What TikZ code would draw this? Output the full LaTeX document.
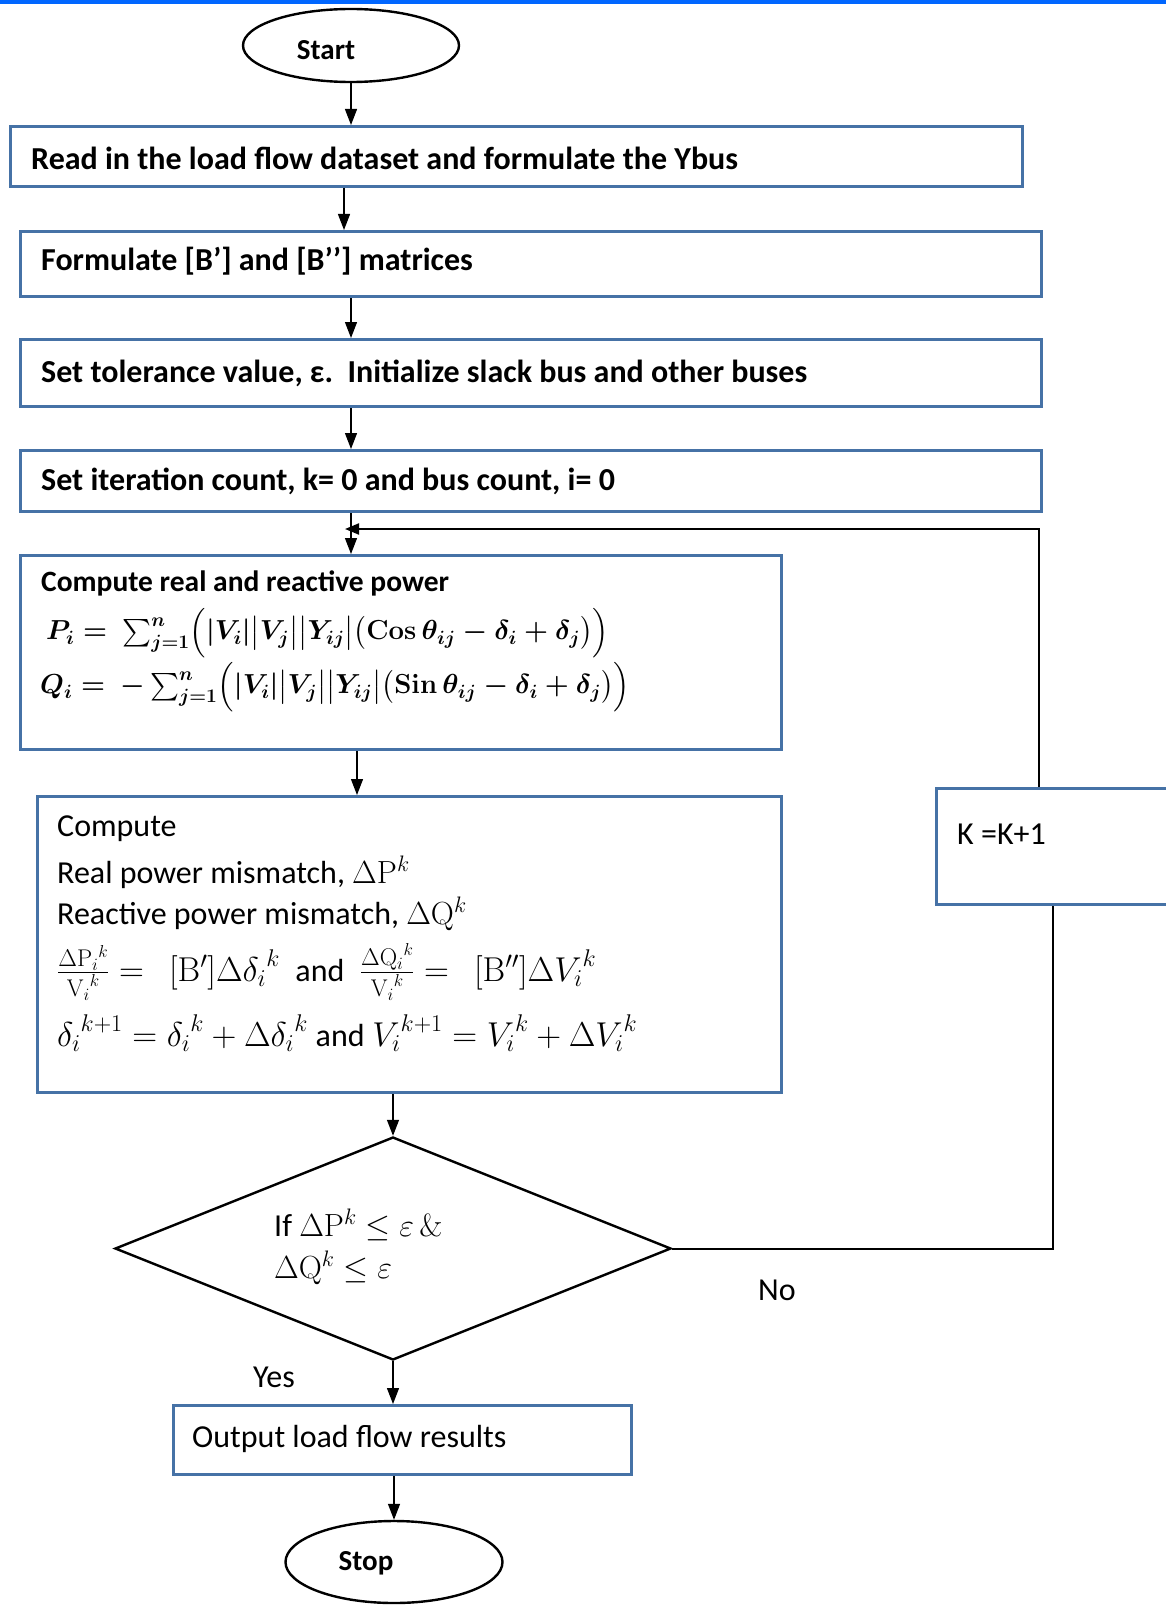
\documentclass[tikz,border=0pt]{standalone}
\usepackage{fix-cm}
\usepackage{amsmath,amssymb}
\usepackage[no-math]{fontspec}
\setmainfont{Carlito}
\usetikzlibrary{shapes.geometric,arrows.meta}
\definecolor{boxblue}{RGB}{70,114,166}
\definecolor{topblue}{RGB}{0,102,255}
\newcommand{\andtxt}{{\fontsize{32}{38}\selectfont and}}
\tikzset{
  box/.style={draw=boxblue, line width=3pt, inner sep=0pt, anchor=north west},
  term/.style={draw=black, line width=2.4pt, ellipse, inner sep=0pt, minimum width=216pt},
  conn/.style={line width=1.3pt, -{Triangle[length=16pt,width=12pt]}},
  plain/.style={line width=2pt},
  txt/.style={anchor=west, inner sep=0pt, font=\fontsize{32}{38}\selectfont},
  btxt/.style={anchor=west, inner sep=0pt, font=\fontsize{32}{38}\selectfont\bfseries},
  smbtxt/.style={anchor=center, inner sep=0pt, font=\fontsize{29}{35}\selectfont\bfseries},
  eqtxt/.style={anchor=west, inner sep=0pt, font=\fontsize{27.5}{33}\selectfont\boldmath},
  bigm/.style={anchor=west, inner sep=0pt, font=\fontsize{34.5}{40}\selectfont},
}
\begin{document}
\begin{tikzpicture}[x=1pt,y=-1pt]
\clip (0,0) rectangle (1166,1605);
\fill[white] (0,0) rectangle (1166,1605);
\fill[topblue] (0,0) rectangle (1166,4);

% spines
\coordinate (s1) at (351,0);
\coordinate (s2) at (344,0);
\coordinate (s3) at (357,0);
\coordinate (s4) at (393,0);
\coordinate (s5) at (394,0);

% terminals
\node[term, minimum height=73pt] (start) at (351,45.5) {};
\node[smbtxt] (startt) at (326,50) {Start};
\node[term, minimum height=82pt, minimum width=217pt] (stop) at (394,1562) {};
\node[smbtxt] (stopt) at (366,1563) {Stop};

% boxes
\node[box, minimum width=1012pt, minimum height=60pt] (b1) at (9,125) {};
\node[box, minimum width=1021pt, minimum height=65pt] (b2) at (19,230) {};
\node[box, minimum width=1021pt, minimum height=67pt] (b3) at (19,338) {};
\node[box, minimum width=1021pt, minimum height=61pt] (b4) at (19,449) {};
\node[box, minimum width=761pt, minimum height=194pt] (b5) at (19,554) {};
\node[box, minimum width=744pt, minimum height=296pt] (b6) at (36,795) {};
\node[box, minimum width=232pt, minimum height=116pt] (kbox) at (935,787) {};
\node[box, minimum width=458pt, minimum height=69pt] (out) at (172,1404) {};
\node[diamond, draw=black, line width=2.4pt, inner sep=0pt, minimum width=556pt, minimum height=223pt] (dia) at (393,1248.5) {};

% texts
\node[btxt] (t1) at (31,158) {Read in the load flow dataset and formulate the Ybus};
\node[btxt] (t2) at (41,261) {Formulate [B’] and [B’’] matrices};
\node[btxt] (t3) at (41,373) {Set tolerance value, ε.\ \ Initialize slack bus and other buses};
\node[btxt] (t4) at (41,481) {Set iteration count, k= 0 and bus count, i= 0};
\node[btxt, font=\fontsize{29.5}{35}\selectfont\bfseries] (t5a) at (41,583) {Compute real and reactive power};
\node[eqtxt] (t5b) at (46,633) {$P_i = \ \sum_{j=1}^{n}\Bigl(|V_i|\bigl|V_j\bigr|\bigl|Y_{ij}\bigr|\bigl(\mathbf{Cos}\,\theta_{ij}-\delta_i+\delta_j\bigr)\Bigr)$};
\node[eqtxt] (t5c) at (40,687) {$Q_i = \ -\sum_{j=1}^{n}\Bigl(|V_i|\bigl|V_j\bigr|\bigl|Y_{ij}\bigr|\bigl(\mathbf{Sin}\,\theta_{ij}-\delta_i+\delta_j\bigr)\Bigr)$};

\node[txt] (t6a) at (57,829) {Compute};
\node[txt] (t6b) at (57,872) {Real power mismatch, $\Delta\mathrm{P}^k$};
\node[txt] (t6c) at (57,914) {Reactive power mismatch, $\Delta\mathrm{Q}^k$};
\node[bigm] (t6d) at (57,972) {$\frac{\Delta{\mathrm{P}_i}^k}{{\mathrm{V}_i}^k} = \ \ [\mathrm{B}']\Delta{\delta_i}^k$\ \ \andtxt\ \ $\frac{\Delta{\mathrm{Q}_i}^k}{{\mathrm{V}_i}^k} = \ \ [\mathrm{B}'']\Delta{V_i}^k$};
\node[bigm] (t6e) at (57,1033) {${\delta_i}^{k+1} = {\delta_i}^k + \Delta{\delta_i}^k$ \andtxt\ ${V_i}^{k+1} = {V_i}^k + \Delta{V_i}^k$};

\node[txt] (td1) at (274,1225) {If $\Delta\mathrm{P}^k \leq \varepsilon\,\&$};
\node[txt] (td2) at (274,1268) {$\Delta\mathrm{Q}^k \leq \varepsilon$};
\node[txt] (kt) at (957,834) {K =K+1};
\node[txt] (ot) at (192,1439) {Output load flow results};
\node[txt, anchor=center] (no) at (777,1290) {No};
\node[txt, anchor=center] (yes) at (274,1377) {Yes};

% connectors
\draw[conn] (start.south) -- (start.south |- b1.north);
\draw[conn] (b1.south -| s2) -- (b2.north -| s2);
\draw[conn] (b2.south -| s1) -- (b3.north -| s1);
\draw[conn] (b3.south -| s1) -- (b4.north -| s1);
\draw[conn] (b4.south -| s1) -- (b5.north -| s1);
\draw[conn] (b5.south -| s3) -- (b6.north -| s3);
\draw[conn] (b6.south -| s4) -- (dia.north);
\draw[conn] (dia.south) -- (out.north -| s4);
\draw[conn] (out.south -| s5) -- (stop.north);

% feedback loop
\coordinate (fbtop) at (1039,529);
\coordinate (fbtip) at (345,529);
\draw[plain] (dia.east) -- (dia.east -| kbox.south) -- (kbox.south);
\draw[plain, -{Triangle[length=14pt,width=11pt]}] (kbox.north -| fbtop) -- (fbtop) -- (fbtip);
\end{tikzpicture}
\end{document}
